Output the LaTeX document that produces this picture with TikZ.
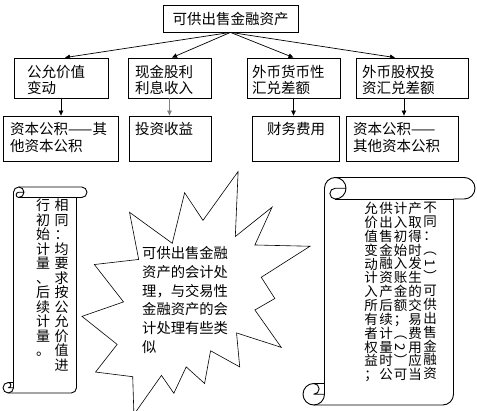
\documentclass[tikz,border=0pt]{standalone}
\usepackage{fontspec}
\usepackage{graphicx}
\newfontfamily\cjk{Noto Sans CJK SC}
\usetikzlibrary{arrows.meta}
\tikzset{
  box/.style={draw, line width=0.8pt, inner sep=0pt, fill=white},
  hz/.style={font={\cjk\fontsize{14.5}{16.5}\selectfont}, inner sep=0pt, align=left},
  sttxt/.style={font={\cjk\fontsize{14.3}{18.8}\selectfont}, inner sep=0pt, align=left},
  vl/.style={font={\cjk\fontsize{14}{14.5}\selectfont\lineskiplimit=-20pt\relax}, inner sep=0pt, align=center},
  vr/.style={font={\cjk\fontsize{13.5}{13.85}\selectfont\lineskiplimit=-20pt\relax}, inner sep=0pt, align=center},
  arr/.style={-{Triangle[length=5pt,width=4.5pt]}, line width=0.7pt},
  scrollline/.style={line width=0.9pt, line join=round},
  starline/.style={line width=0.6pt, line join=miter, fill=white}
}
\newcommand\myscroll[5]{%
  \filldraw[scrollline, fill=white] ({#1+#5},{#4-#5}) -- ({#1+#5},{#2+#5/2})
    arc[start angle=180, delta angle=90, radius={#5/2}] -- ({#3-#5/2},#2)
    arc[start angle=270, delta angle=180, radius={#5/2}] -- ({#3-#5},{#2+#5})
    -- ({#3-#5},{#4-#5/2})
    arc[start angle=0, delta angle=90, radius={#5/2}] -- ({#1+#5/2},#4)
    arc[start angle=90, delta angle=180, radius={#5/2}] -- cycle;
  \draw[scrollline] ({#1+1.5*#5},#2)
    arc[start angle=270, delta angle=180, radius={#5/2}]
    arc[start angle=90, delta angle=180, radius={#5/4}] -- ({#1+2*#5},{#2+#5/2});
  \draw[scrollline] ({#3-#5},{#2+#5}) -- ({#1+1.5*#5},{#2+#5});
  \draw[scrollline] ({#1+#5/2},{#4-#5})
    arc[start angle=270, delta angle=180, radius={#5/4}] -- ({#1+#5},{#4-#5/2});
  \draw[scrollline] ({#1+#5/2},#4)
    arc[start angle=90, delta angle=-90, radius={#5/2}] -- ({#1+#5},{#4-#5});
}
\begin{document}
\begin{tikzpicture}[x=1pt,y=-1pt]
\clip (0,0) rectangle (477,411);
\fill[white] (0,0) rectangle (477,411);

% top
\node[box, minimum width=135, minimum height=27, font={\cjk\fontsize{14.5}{16.5}\selectfont}] (top) at (230.5,18.5) {可供出售金融资产};

% row 2
\node[box, minimum width=94, minimum height=40] (b1) at (61,78) {};
\node[box, minimum width=83, minimum height=40] (b2) at (169.5,78) {};
\node[box, minimum width=93, minimum height=40] (b3) at (293.5,78) {};
\node[box, minimum width=112, minimum height=40] (b4) at (412,78) {};
% row 3
\node[box, minimum width=115, minimum height=45] (b5) at (60.5,138.5) {};
\node[box, minimum width=82, minimum height=45] (b6) at (170,138.5) {};
\node[box, minimum width=87, minimum height=45] (b7) at (295.5,138.5) {};
\node[box, minimum width=112, minimum height=45] (b8) at (402,138.5) {};

\node[hz, anchor=west] (t1) at (27,80) {公允价值\\变动};
\node[hz, anchor=west] (t2) at (135,80) {现金股利\\利息收入};
\node[hz, anchor=west] (t3) at (252,80) {外币货币性\\汇兑差额};
\node[hz, anchor=west] (t4) at (362,80) {外币股权投\\资汇兑差额};
\node[hz, anchor=west] (t5) at (10,137.5) {资本公积——其\\他资本公积};
\node[hz, anchor=west] (t6) at (135,129.3) {投资收益};
\node[hz, anchor=west] (t7) at (267,129.3) {财务费用};
\node[hz, anchor=west] (t8) at (353,137.5) {资本公积——\\其他资本公积};

% arrows
\draw[arr] (top.south) -- ([xshift=4pt]b1.north);
\draw[arr] (top.south) -- ([xshift=2.5pt]b2.north);
\draw[arr] (top.south) -- (b3.north);
\draw[arr] (top.south) -- ([xshift=-17pt]b4.north);
\draw[arr] (b1.south) -- (b1.south |- b5.north);
\draw[arr, gray] (b2.south) -- (b2.south |- b6.north);
\draw[arr] (b3.south) -- (b3.south |- b7.north);
\coordinate (c4) at ([xshift=-8pt]b4.south);
\draw[arr] (c4) -- (c4 |- b8.north);

% explosion
\begin{scope}[shift={(82,171.5)}, xscale=228/216, yscale=243/216]
\draw[starline] (114.62,43.42) -- (147.90,0) -- (145.25,57.77) -- (180.07,31.72)
  -- (163.80,65.32) -- (216,66.45) -- (169.85,94.02) -- (182.70,112.90)
  -- (163.80,123.10) -- (188.77,156.32) -- (146.40,143.50) -- (149.42,173.70)
  -- (121.80,159.35) -- (116.12,188.42) -- (98.72,173.70) -- (87.00,197.12)
  -- (75.27,181.25) -- (49.17,216) -- (48.05,182.40) -- (12.85,178.25)
  -- (33.30,153.70) -- (0,128.77) -- (39.35,115.92) -- (11.72,82.70)
  -- (53.72,78.17) -- (45.02,36.25) -- (85.50,63.82) -- (97.22,18.87) -- cycle;
\end{scope}
\node[sttxt, anchor=west] (st) at (142,300) {可供出售金融\\资产的会计处\\理，与交易性\\金融资产的会\\计处理有些类\\似};

% scrolls
\myscroll{3}{187}{87}{393}{10.5}
\myscroll{303}{177.5}{475}{405}{21.5}

\node[vl, anchor=north] (l1) at (61.5,199) {相\\同\\：\\均\\要\\求\\按\\公\\允\\价\\值\\进};
\node[vl, anchor=north] (l2) at (43,199) {行\\初\\始\\计\\量\\、\\后\\续\\计\\量\\。};

\node[vr, anchor=north] (r1) at (430,202) {不\\同\\：\\︵\\\rotatebox[origin=c]{-90}{1}\\︶\\可\\供\\出\\售\\金\\融\\资};
\node[vr, anchor=north] (r2) at (415,202) {产\\取\\得\\时\\发\\生\\的\\交\\易\\费\\用\\应\\当};
\node[vr, anchor=north] (r3) at (400.5,202) {计\\入\\初\\始\\入\\账\\金\\额\\；\\︵\\\rotatebox[origin=c]{-90}{2}\\︶\\可};
\node[vr, anchor=north] (r4) at (386,202) {供\\出\\售\\金\\融\\资\\产\\后\\续\\计\\量\\时\\公};
\node[vr, anchor=north] (r5) at (371,202) {允\\价\\值\\变\\动\\计\\入\\所\\有\\者\\权\\益\\；};
\end{tikzpicture}
\end{document}
